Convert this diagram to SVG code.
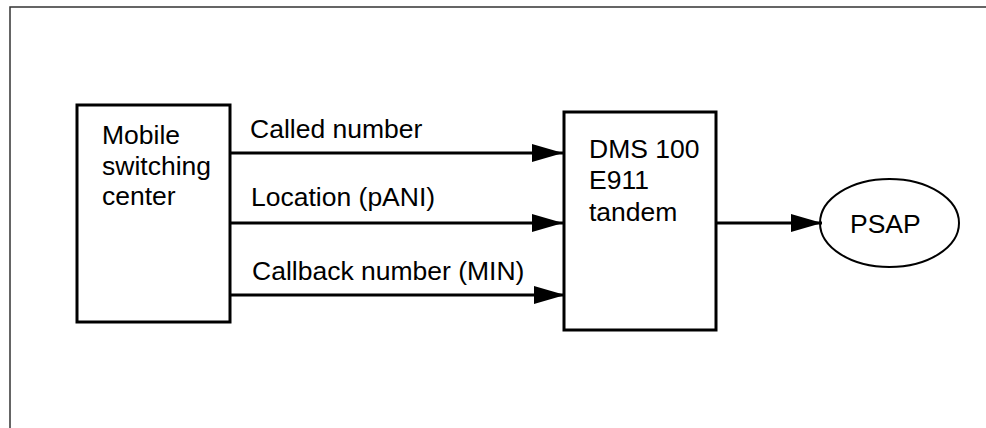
<svg xmlns="http://www.w3.org/2000/svg" width="986" height="428" viewBox="0 0 986 428">
<style>
.box{fill:#fff;stroke:#000;stroke-width:3}
.ln{stroke:#000;stroke-width:3;fill:none}
.t{font-family:"Liberation Sans",Arial,sans-serif;font-size:26.5px;fill:#000}
</style>
<defs>
<marker id="ah" markerUnits="userSpaceOnUse" markerWidth="32" markerHeight="20" refX="31" refY="9" orient="auto">
<path d="M0,0 L31,9 L0,18 Z" fill="#000"/>
</marker>
</defs>
<rect width="986" height="428" fill="#fff"/>
<path d="M10,428 V7 H986" fill="none" stroke="#333" stroke-width="1.5"/>
<g id="msc">
<rect class="box" x="77" y="105" width="153" height="217"/>
<text class="t" x="102" y="144">Mobile</text>
<text class="t" x="102" y="175">switching</text>
<text class="t" x="102" y="205">center</text>
</g>
<g id="dms">
<rect class="box" x="564" y="112" width="152" height="218"/>
<text class="t" x="589" y="158">DMS 100</text>
<text class="t" x="589" y="189">E911</text>
<text class="t" x="589" y="221">tandem</text>
</g>
<g id="psap">
<ellipse cx="889.5" cy="223" rx="69.5" ry="44" fill="#fff" stroke="#000" stroke-width="2"/>
<text class="t" x="850" y="233">PSAP</text>
</g>
<g id="connectors">
<line class="ln" x1="230" y1="153" x2="563" y2="153" marker-end="url(#ah)"/>
<line class="ln" x1="230" y1="223" x2="563" y2="223" marker-end="url(#ah)"/>
<line class="ln" x1="230" y1="295" x2="565" y2="295" marker-end="url(#ah)"/>
<line class="ln" x1="716" y1="223" x2="822" y2="223" marker-end="url(#ah)"/>
<text class="t" x="250" y="138">Called number</text>
<text class="t" x="251" y="206">Location (pANI)</text>
<text class="t" x="252" y="280">Callback number (MIN)</text>
</g>
</svg>
